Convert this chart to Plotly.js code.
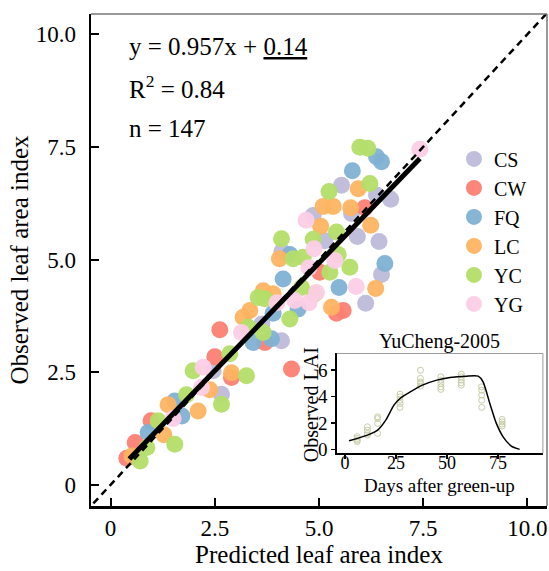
<!DOCTYPE html>
<html>
<head>
<meta charset="utf-8">
<script src="https://cdn.plot.ly/plotly-3.0.1.min.js"></script>
<style>html,body{margin:0;padding:0;background:#fff;}#chart{width:549px;height:571px;}</style>
</head>
<body>
<div id="chart"></div>
<script>
// ---- main scatter data (predicted vs observed LAI) ----
const groups = ["CS", "CW", "FQ", "LC", "YC", "YG"];
const groupColors = ["#BEBADA", "#FB8072", "#80B1D3", "#FDB462", "#B3DE69", "#FCCDE5"];

const csX = [5.54, 6.38, 6.72, 5.78, 4.86, 5.92, 6.44, 5.14, 6.50, 6.12, 4.11, 3.63, 4.10, 2.46, 2.66];
const csY = [6.65, 6.43, 6.34, 6.02, 5.98, 5.51, 5.40, 5.42, 4.67, 4.03, 5.18, 3.57, 3.20, 2.53, 2.01];

const cwX = [6.10, 5.02, 5.58, 5.42, 4.34, 2.62, 3.70, 2.50, 2.90, 0.97, 0.59, 0.39];
const cwY = [6.15, 4.72, 3.87, 3.81, 2.57, 3.44, 3.16, 2.84, 2.38, 1.42, 0.94, 0.59];

const fqX = [6.38, 6.50, 5.80, 6.58, 5.48, 4.14, 4.50, 4.30, 3.90, 3.86, 3.42, 1.54, 1.71, 0.90];
const fqY = [7.28, 7.17, 6.97, 4.91, 4.38, 4.57, 3.90, 5.11, 3.81, 3.24, 3.16, 1.86, 1.53, 1.16];

const lcX = [5.94, 5.10, 5.34, 5.76, 5.04, 6.24, 6.36, 5.30, 3.66, 3.90, 4.05, 3.34, 3.18, 2.90, 2.38, 2.10, 1.38, 1.28, 0.51];
const lcY = [6.57, 6.18, 6.18, 6.15, 5.74, 5.76, 4.36, 3.94, 4.31, 4.24, 5.02, 3.87, 3.72, 2.49, 2.11, 1.64, 1.78, 1.11, 0.64];

const ycX = [5.98, 6.17, 6.22, 5.24, 5.42, 4.86, 4.10, 4.62, 4.38, 5.46, 5.74, 5.26, 4.90, 4.58, 3.54, 3.70, 4.30, 3.30, 3.66, 2.86, 1.98, 3.26, 2.66, 1.82, 1.14, 1.54, 0.87, 0.71];
const ycY = [7.49, 7.47, 6.69, 6.51, 5.61, 5.45, 5.46, 5.05, 5.02, 5.11, 4.83, 4.72, 4.24, 4.38, 4.16, 4.13, 3.68, 3.50, 3.38, 2.91, 2.53, 2.42, 1.79, 2.00, 1.42, 0.90, 0.83, 0.53];

const ygX = [7.42, 4.69, 4.88, 5.38, 4.76, 5.89, 4.94, 4.76, 4.42, 3.99, 3.14, 2.22, 2.18, 1.50];
const ygY = [7.45, 5.87, 5.24, 4.98, 4.82, 4.40, 4.27, 4.04, 4.09, 4.04, 3.38, 2.61, 2.16, 1.47];

const groupX = [csX, cwX, fqX, lcX, ycX, ygX];
const groupY = [csY, cwY, fqY, lcY, ycY, ygY];

// regression
const slope = 0.957;
const intercept = 0.14;
const regX = [0.45, 7.42];
const identityX = [-1, 11];

// tick labels
const mainTickVals = [0, 2.5, 5, 7.5, 10];
const mainTickText = ["0", "2.5", "5.0", "7.5", "10.0"];

// ---- inset data (YuCheng-2005) ----
const simDays = [2, 11, 16, 20, 24, 27, 32, 38, 45, 51.5, 59.6, 65.3, 67.7, 71, 74.2, 77.5, 81.5, 85.6];
const simLAI  = [0.65, 1.08, 1.46, 2.22, 3.36, 3.86, 4.36, 4.87, 5.25, 5.45, 5.55, 5.55, 5.12, 3.48, 1.97, 0.95, 0.25, 0.0];
const obsDays = [6,6,6,6, 11,11,11,11, 16,16,16,16, 27,27,27,27,27, 37,37,37,37,37, 47,47,47,47,47, 57,57,57,57,57, 67,67,67,67,67, 77,77,77,77];
const obsLAI  = [0.97,0.83,0.70,0.60, 1.71,1.46,1.21,1.08, 2.47,2.34,1.97,1.21, 4.19,3.98,3.73,3.48,3.18, 6.0,5.38,5.12,5.0,4.8, 5.5,5.25,5.0,4.74,4.55, 5.7,5.5,5.25,5.05,4.87, 4.74,4.49,4.11,3.73,3.18, 2.27,2.09,1.92,1.77];
const insetTickVals = [0, 25, 50, 75];
const insetYTickVals = [0, 2, 4, 6];

const FONT = "Liberation Serif, 'Times New Roman', serif";

const traces = [];
groups.forEach((g, i) => {
  traces.push({
    type: "scatter", mode: "markers", name: g,
    x: groupX[i], y: groupY[i],
    marker: { color: groupColors[i], size: 17, opacity: 0.95, line: { width: 0 } },
    xaxis: "x", yaxis: "y", hoverinfo: "skip"
  });
});
traces.push({
  type: "scatter", mode: "lines", x: identityX, y: identityX, showlegend: false,
  line: { color: "black", width: 2.5, dash: "7px,5px" }, hoverinfo: "skip"
});
traces.push({
  type: "scatter", mode: "lines", x: regX, y: regX.map(v => slope * v + intercept), showlegend: false,
  line: { color: "black", width: 5 }, hoverinfo: "skip"
});
traces.push({
  type: "scatter", mode: "markers", x: obsDays, y: obsLAI, showlegend: false,
  xaxis: "x2", yaxis: "y2",
  marker: { symbol: "circle-open", size: 6, color: "#c6cda8", line: { width: 1 } }, hoverinfo: "skip"
});
traces.push({
  type: "scatter", mode: "lines", x: simDays, y: simLAI, showlegend: false,
  xaxis: "x2", yaxis: "y2",
  line: { color: "black", width: 1.5, shape: "spline", smoothing: 0.6 }, hoverinfo: "skip"
});

const inL = 0.539, inR = 0.991, inB = 0.107, inT = 0.310;

const layout = {
  width: 549, height: 571,
  margin: { l: 91, r: 2, t: 14, b: 65 },
  paper_bgcolor: "white", plot_bgcolor: "white",
  font: { family: FONT, color: "black", size: 22 },
  showlegend: true,
  legend: {
    x: 0.796, y: 0.745, xanchor: "left", yanchor: "top",
    font: { family: FONT, size: 20, color: "black" },
    bgcolor: "rgba(0,0,0,0)", borderwidth: 0, itemwidth: 30
  },
  xaxis: {
    domain: [0, 1], range: [-0.47, 10.47], anchor: "y",
    showline: true, linecolor: "black", linewidth: 2.5,
    ticks: "inside", ticklen: 8, tickwidth: 2, tickcolor: "black",
    tickvals: mainTickVals, ticktext: mainTickText,
    tickfont: { size: 23, family: FONT }, ticklabelstandoff: 0,
    showgrid: false, zeroline: false,
    title: { text: "Predicted leaf area index", font: { size: 25, family: FONT }, standoff: 4 }
  },
  yaxis: {
    domain: [0, 1], range: [-0.47, 10.45], anchor: "x",
    showline: true, linecolor: "black", linewidth: 2.5,
    ticks: "inside", ticklen: 8, tickwidth: 2, tickcolor: "black",
    tickvals: mainTickVals, ticktext: mainTickText,
    tickfont: { size: 23, family: FONT }, ticklabelstandoff: 8,
    showgrid: false, zeroline: false,
    title: { text: "Observed leaf area index", font: { size: 25, family: FONT }, standoff: 0 }
  },
  xaxis2: {
    domain: [inL, inR], range: [-4, 97], anchor: "y2",
    showline: true, linecolor: "black", linewidth: 1.5,
    ticks: "outside", ticklen: 4, tickwidth: 1.5, tickcolor: "black",
    tickvals: insetTickVals, tickfont: { size: 18, family: FONT }, ticklabelstandoff: -11,
    showgrid: false, zeroline: false
  },
  yaxis2: {
    domain: [inB, inT], range: [-0.3, 7.27], anchor: "x2",
    showline: true, linecolor: "black", linewidth: 1.5,
    ticks: "outside", ticklen: 4, tickwidth: 1.5, tickcolor: "black",
    tickvals: insetYTickVals, tickfont: { size: 19, family: FONT },
    showgrid: false, zeroline: false
  },
  shapes: [
    { type: "line", xref: "paper", yref: "paper", x0: 0, x1: 1, y0: 1, y1: 1, line: { color: "#777", width: 1.5 } },
    { type: "line", xref: "paper", yref: "paper", x0: 1, x1: 1, y0: 0, y1: 1, line: { color: "#777", width: 1.5 } },
    { type: "line", xref: "paper", yref: "paper", x0: inL, x1: inR, y0: inT, y1: inT, line: { color: "#999", width: 1 } },
    { type: "line", xref: "paper", yref: "paper", x0: inR, x1: inR, y0: inB, y1: inT, line: { color: "#999", width: 1 } }
  ],
  annotations: [
    { xref: "paper", yref: "paper", x: 0.08, y: 0.933, xanchor: "left", yanchor: "middle", showarrow: false,
      text: "y = " + slope + "x + <u>" + intercept.toFixed(2) + "</u>", font: { size: 25, family: FONT } },
    { xref: "paper", yref: "paper", x: 0.08, y: 0.852, xanchor: "left", yanchor: "middle", showarrow: false,
      text: "R<sup>2</sup> = 0.84", font: { size: 25, family: FONT } },
    { xref: "paper", yref: "paper", x: 0.08, y: 0.768, xanchor: "left", yanchor: "middle", showarrow: false,
      text: "n = 147", font: { size: 25, family: FONT } },
    { xref: "paper", yref: "paper", x: (inL + inR) / 2, y: 0.335, xanchor: "center", yanchor: "middle", showarrow: false,
      text: "YuCheng-2005", font: { size: 20, family: FONT } },
    { xref: "paper", yref: "paper", x: (inL + inR) / 2, y: 0.042, xanchor: "center", yanchor: "middle", showarrow: false,
      text: "Days after green-up", font: { size: 19, family: FONT } },
    { xref: "paper", yref: "paper", x: 0.4825, y: 0.205, xanchor: "center", yanchor: "middle", showarrow: false,
      textangle: -90, text: "Observed LAI", font: { size: 20, family: FONT } }
  ]
};

Plotly.newPlot("chart", traces, layout, { staticPlot: true, displayModeBar: false });
</script>
</body>
</html>
